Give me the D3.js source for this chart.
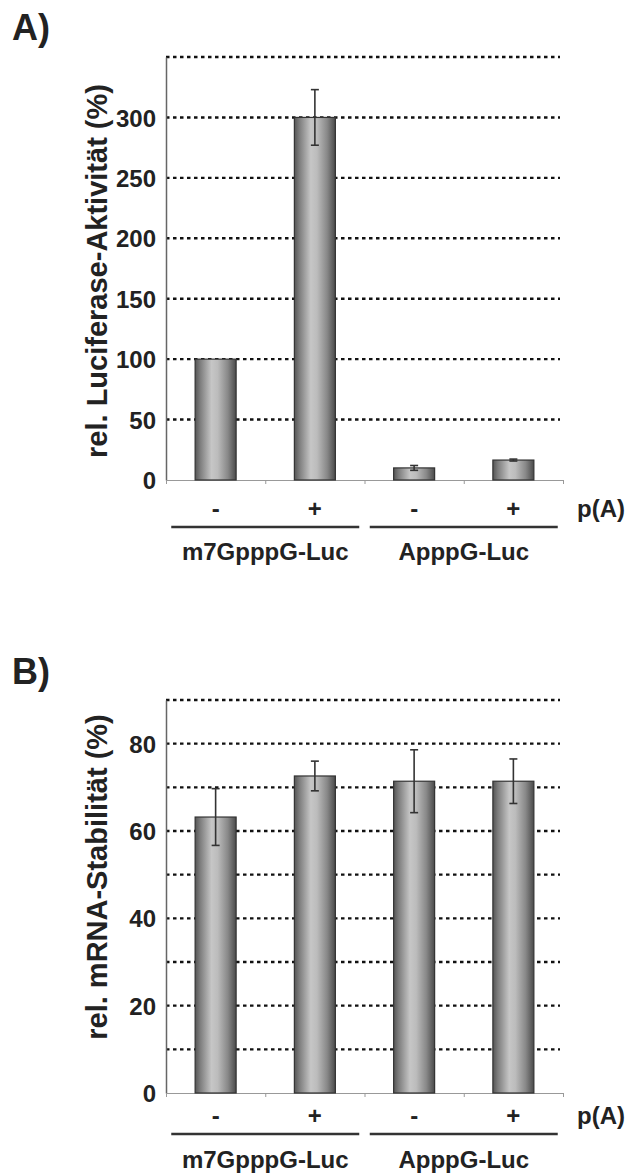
<!DOCTYPE html>
<html>
<head>
<meta charset="utf-8">
<script src="https://cdn.jsdelivr.net/npm/d3@7"></script>
<style>
  body { margin: 0; background: #fff; }
  svg text { font-family: "Liberation Sans", Arial, sans-serif; font-weight: bold; fill: #222; }
</style>
</head>
<body>
<svg id="chart" width="630" height="1173"></svg>
<script>
// data
const conditions = ["-", "+", "-", "+"]
const constructs = ["m7GpppG-Luc", "ApppG-Luc"]

const lucValues = [100, 300, 10, 16.5]
const lucErrors = [0, 23, 2, 0.8]
const lucTicks = [0, 50, 100, 150, 200, 250, 300]
const lucGrid = [50, 100, 150, 200, 250, 300, 350]

const stabValues = [63.2, 72.6, 71.4, 71.4]
const stabErrors = [6.5, 3.4, 7.2, 5.1]
const stabTicks = [0, 20, 40, 60, 80]
const stabGrid = [10, 20, 30, 40, 50, 60, 70, 80, 90]

let svg = d3.select('#chart')

// bar shading: dark edges, light just left of centre
let grad = svg.append('defs').append('linearGradient')
    .attr('id', 'barfill')
    .attr('x1', '0%').attr('x2', '100%').attr('y1', '0%').attr('y2', '0%')
let stops = [[0, '#555'], [0.12, '#7c7c7c'], [0.4, '#c6c6c6'], [0.55, '#bcbcbc'], [0.8, '#888'], [1, '#4a4a4a']]
grad.selectAll('stop').data(stops).join('stop')
    .attr('offset', d => d[0])
    .attr('stop-color', d => d[1])

let left = 166, right = 563

function drawPanel(o) {
    let g = svg.append('g')

    let x = d3.scaleBand().domain(d3.range(conditions.length)).range([left, right])
    let xl = d3.scaleLinear().domain([0, conditions.length]).range([left, right])
    let y = d3.scaleLinear().domain([0, o.max]).range([o.bottom, o.top])
    let barW = 41

    // panel letter
    g.append('text')
        .attr('x', 12).attr('y', o.letterY)
        .style('font-size', '36px')
        .text(o.letter)

    // dotted grid
    g.selectAll('.grid')
        .data(o.grid)
        .join('line')
            .attr('x1', left).attr('x2', 560)
            .attr('y1', d => y(d)).attr('y2', d => y(d))
            .attr('stroke', '#111')
            .attr('stroke-width', 2.4)
            .attr('stroke-dasharray', '3.5,3.5')

    // y axis
    let yAxis = g.append('g')
        .attr('transform', `translate(${left},0)`)
        .call(d3.axisLeft(y).tickValues(o.ticks).tickSize(0).tickPadding(10))
    yAxis.select('.domain').attr('stroke', '#666').attr('stroke-width', 1.5)
    yAxis.selectAll('text')
        .attr('font-family', null).attr('font-size', null)
        .style('font-size', '24px')
        .attr('dy', '0.36em')

    // x axis with ticks at the category borders
    let xAxis = g.append('g')
        .attr('transform', `translate(0,${o.bottom})`)
        .call(d3.axisBottom(xl).tickValues(d3.range(conditions.length + 1)).tickSize(4).tickSizeOuter(4).tickFormat(''))
    xAxis.select('.domain').attr('stroke', '#999')
    xAxis.selectAll('.tick line').attr('stroke', '#999')

    // bars
    g.selectAll('.bar')
        .data(o.values)
        .join('rect')
            .attr('x', (d, i) => x(i) + x.bandwidth() / 2 - barW / 2)
            .attr('y', d => y(d))
            .attr('width', barW)
            .attr('height', d => o.bottom - y(d))
            .attr('fill', 'url(#barfill)')
            .attr('stroke', '#333')
            .attr('stroke-width', 1.2)

    // error bars
    let err = o.values.map((v, i) => ({v: v, e: o.errors[i], i: i})).filter(d => d.e > 0)
    let eg = g.selectAll('.err').data(err).join('g').attr('stroke', '#333').attr('stroke-width', 1.6)
    eg.append('line')
        .attr('x1', d => x(d.i) + x.bandwidth() / 2).attr('x2', d => x(d.i) + x.bandwidth() / 2)
        .attr('y1', d => y(d.v - d.e)).attr('y2', d => y(d.v + d.e))
    eg.append('line')
        .attr('x1', d => x(d.i) + x.bandwidth() / 2 - 4).attr('x2', d => x(d.i) + x.bandwidth() / 2 + 4)
        .attr('y1', d => y(d.v + d.e)).attr('y2', d => y(d.v + d.e))
    eg.append('line')
        .attr('x1', d => x(d.i) + x.bandwidth() / 2 - 4).attr('x2', d => x(d.i) + x.bandwidth() / 2 + 4)
        .attr('y1', d => y(d.v - d.e)).attr('y2', d => y(d.v - d.e))

    // y title
    g.append('text')
        .attr('transform', `translate(107,${o.titleY}) rotate(-90)`)
        .attr('text-anchor', 'middle')
        .style('font-size', '29px')
        .text(o.title)

    // +/- labels
    g.selectAll('.cond')
        .data(conditions)
        .join('text')
            .attr('x', (d, i) => x(i) + x.bandwidth() / 2)
            .attr('y', o.bottom + o.condDy)
            .attr('text-anchor', 'middle')
            .style('font-size', '24px')
            .text(d => d)
    g.append('text')
        .attr('x', 577).attr('y', o.bottom + o.condDy)
        .style('font-size', '24px')
        .text('p(A)')

    // group brackets
    let step = x.step()
    g.selectAll('.grp')
        .data(constructs)
        .join('line')
            .attr('x1', (d, i) => left + step * (2 * i + 1) - 94)
            .attr('x2', (d, i) => left + step * (2 * i + 1) + 94)
            .attr('y1', o.bottom + o.lineDy).attr('y2', o.bottom + o.lineDy)
            .attr('stroke', '#333')
            .attr('stroke-width', 2.4)
    g.selectAll('.grplabel')
        .data(constructs)
        .join('text')
            .attr('x', (d, i) => left + step * (2 * i + 1))
            .attr('y', o.bottom + o.labelDy)
            .attr('text-anchor', 'middle')
            .style('font-size', '24px')
            .text(d => d)
}

drawPanel({
    letter: 'A)', letterY: 40,
    top: 57, bottom: 480, max: 350,
    values: lucValues, errors: lucErrors,
    ticks: lucTicks, grid: lucGrid,
    title: 'rel. Luciferase-Aktivität (%)', titleY: 271,
    condDy: 37, lineDy: 47, labelDy: 80
})

drawPanel({
    letter: 'B)', letterY: 684,
    top: 700, bottom: 1093, max: 90,
    values: stabValues, errors: stabErrors,
    ticks: stabTicks, grid: stabGrid,
    title: 'rel. mRNA-Stabilität (%)', titleY: 877,
    condDy: 31, lineDy: 41, labelDy: 75
})
</script>
</body>
</html>
